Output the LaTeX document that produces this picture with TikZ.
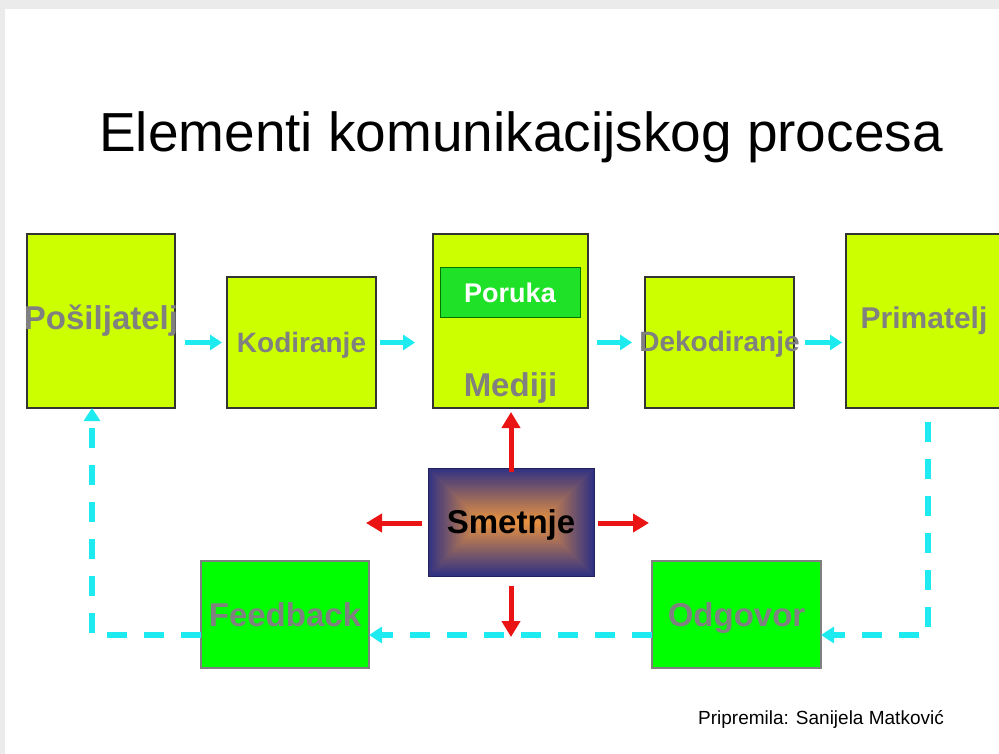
\documentclass[tikz,border=0pt]{standalone}
\usepackage{fontspec}
\setmainfont{Liberation Sans}
\usetikzlibrary{positioning, calc, arrows.meta}
\definecolor{boxyellow}{RGB}{204,255,0}
\definecolor{boxgreen}{RGB}{0,255,0}
\definecolor{msggreen}{RGB}{30,225,40}
\definecolor{labelgray}{RGB}{128,128,128}
\definecolor{flowcyan}{RGB}{30,235,240}
\definecolor{noisered}{RGB}{235,20,20}
\definecolor{noiseblue}{RGB}{50,50,130}
\definecolor{noiseorange}{RGB}{230,145,65}

\begin{document}
\begin{tikzpicture}[x=1pt,y=-1pt,
    stage/.style={draw=black!80,line width=1.5pt,fill=boxyellow,inner sep=0pt,outer sep=0pt},
    reply/.style={draw=black!50,line width=1.5pt,fill=boxgreen,inner sep=0pt,outer sep=0pt},
    txt/.style={text=labelgray,font=\bfseries\fontsize{#1}{#1}\selectfont},
    flow/.style={flowcyan,line width=5pt,-{Triangle[length=12pt,width=15pt]}},
    backflow/.style={flowcyan,line width=5.5pt,dash pattern=on 20pt off 17pt,-{Triangle[length=13pt,width=16pt]}},
    noise/.style={noisered,line width=5pt,-{Triangle[length=16pt,width=18pt]}}]
  \useasboundingbox (0,0) rectangle (999,754);
  \clip (0,0) rectangle (999,754);
  \fill[black!8] (0,0) rectangle (999,754);
  \fill[white] (5,9) rectangle (999,754);

  % title and credit
  \node[anchor=base,font=\fontsize{55}{60}\selectfont] (title) at (521,152) {Elementi komunikacijskog procesa};
  \node[anchor=base,font=\fontsize{19}{22}\selectfont] (credit) at (821,724) {Pripremila: Sanijela Matković};

  % top row
  \node[stage,minimum width=148pt,minimum height=174pt,label={[txt=33]center:Pošiljatelj}] (posiljatelj) at (101,321) {};
  \node[stage,minimum width=149pt,minimum height=131pt,label={[txt=28,yshift=-3pt]center:Kodiranje}] (kodiranje) at (301.5,342.5) {};
  \node[stage,minimum width=155pt,minimum height=174pt] (mediji) at (510.5,321) {};
  \node[draw=green!45!black,line width=1pt,fill=msggreen,minimum width=140pt,minimum height=49pt,inner sep=0pt,text=white,font=\bfseries\fontsize{27}{27}\selectfont] (poruka) at (510,292.5) {Poruka};
  \node[anchor=base,txt=33] (medijiText) at (510.5,396) {Mediji};
  \node[stage,minimum width=149pt,minimum height=131pt,label={[txt=28,yshift=-2pt]center:Dekodiranje}] (dekodiranje) at (719.5,342.5) {};
  \node[stage,minimum width=164pt,minimum height=174pt,label={[txt=30,xshift=-4pt]center:Primatelj}] (primatelj) at (928,321) {};

  % bottom row
  \foreach \d in {0,2,...,52} {
    \pgfmathsetmacro\mix{\d*100/52}
    \fill[noiseorange!\mix!noiseblue] (428+\d,468+\d) rectangle (594-\d,576-\d);
  }
  \node[draw=noiseblue!70!black,line width=1pt,minimum width=166pt,minimum height=108pt,inner sep=0pt,text depth=0pt,font=\bfseries\fontsize{33}{33}\selectfont] (smetnje) at (511,522) {Smetnje};
  \node[reply,minimum width=168pt,minimum height=107pt,txt=33] (feedback) at (285,614.5) {Feedback};
  \node[reply,minimum width=169pt,minimum height=107pt,txt=33,text depth=0pt] (odgovor) at (736.5,614.5) {Odgovor};

  % forward flow
  \draw[flow,shorten <=10pt,shorten >=5pt] (posiljatelj.east |- kodiranje.west) -- (kodiranje.west);
  \draw[flow,shorten <=4pt,shorten >=18pt] (kodiranje.east) -- (kodiranje.east -| mediji.west);
  \draw[flow,shorten <=9pt,shorten >=13pt] (mediji.east |- dekodiranje.west) -- (dekodiranje.west);
  \draw[flow,shorten <=11pt,shorten >=4pt] (dekodiranje.east) -- (dekodiranje.east -| primatelj.west);

  % feedback loop
  \coordinate (loopRight) at (928,635);
  \coordinate (loopLeft) at (92,635);
  \draw[backflow,shorten <=14pt] (primatelj.south) -- (loopRight) -- (loopRight -| odgovor.east);
  \draw[backflow] (odgovor.west |- loopRight) -- (feedback.east |- loopRight);
  \draw[backflow] (feedback.west |- loopLeft) -- (loopLeft) -- (loopLeft |- posiljatelj.south);

  % noise
  \coordinate (noiseDown) at (511,637);
  \coordinate (noiseLeft) at (366,523);
  \coordinate (noiseRight) at (649,523);
  \draw[noise,shorten <=-4pt,shorten >=4pt] (smetnje.north) -- (smetnje.north |- mediji.south);
  \draw[noise,shorten <=9pt] (smetnje.south) -- (noiseDown);
  \draw[noise,shorten <=6pt] (smetnje.west |- noiseLeft) -- (noiseLeft);
  \draw[noise,shorten <=3pt] (smetnje.east |- noiseRight) -- (noiseRight);
\end{tikzpicture}
\end{document}
